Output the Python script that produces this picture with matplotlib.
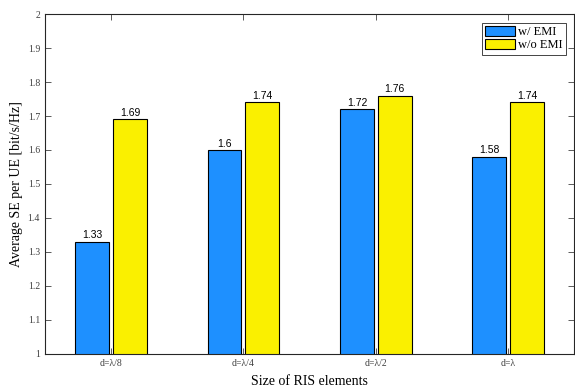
import numpy as np
import matplotlib.pyplot as plt

plt.rcParams['font.family'] = ['Liberation Serif', 'DejaVu Serif']

sizes = ['d=λ/8', 'd=λ/4', 'd=λ/2', 'd=λ']
se_emi = [1.33, 1.60, 1.72, 1.58]
se_no_emi = [1.69, 1.74, 1.76, 1.74]
yticks = [1, 1.1, 1.2, 1.3, 1.4, 1.5, 1.6, 1.7, 1.8, 1.9, 2]

fig = plt.figure(figsize=(5.75, 3.91), dpi=100)
ax = fig.add_axes([0.078, 0.095, 0.921, 0.869])

x = np.arange(1, len(sizes) + 1)
w = 0.256
off = 0.143
b1 = ax.bar(x - off, se_emi, w, bottom=0, color='#1E90FF', edgecolor='black',
            linewidth=0.8, label='w/ EMI', zorder=2)
b2 = ax.bar(x + off, se_no_emi, w, bottom=0, color='#FAF000', edgecolor='black',
            linewidth=0.8, label='w/o EMI', zorder=2)

for xi, v in zip(x - off, se_emi):
    ax.text(xi, v + 0.004, f'{v:g}', ha='center', va='bottom', fontsize=7.5,
            family='Liberation Sans')
for xi, v in zip(x + off, se_no_emi):
    ax.text(xi, v + 0.004, f'{v:g}', ha='center', va='bottom', fontsize=7.5,
            family='Liberation Sans')

ax.set_xlim(0.5, 4.5)
ax.set_ylim(1, 2)
ax.set_xticks(x)
ax.set_xticklabels(sizes, fontsize=7, color='#404040')
ax.set_yticks(yticks)
ax.set_yticklabels([f'{t:g}' for t in yticks], fontsize=7, color='#404040')
ax.tick_params(direction='in', top=True, right=True, length=4, width=0.6,
               color='#404040')
for s in ax.spines.values():
    s.set_color('#262626')
    s.set_linewidth(0.8)

ax.set_xlabel('Size of RIS elements', fontsize=10, labelpad=5)
ax.set_ylabel('Average SE per UE [bit/s/Hz]', fontsize=10, labelpad=3)

leg = ax.legend(loc='upper right', fontsize=9, fancybox=False, framealpha=1,
                edgecolor='#262626', handlelength=2.4, handleheight=0.8,
                handletextpad=0.2, borderpad=0.25, labelspacing=0.1,
                borderaxespad=0.7)
leg.get_frame().set_linewidth(0.6)

fig.savefig('out.png', dpi=100)
